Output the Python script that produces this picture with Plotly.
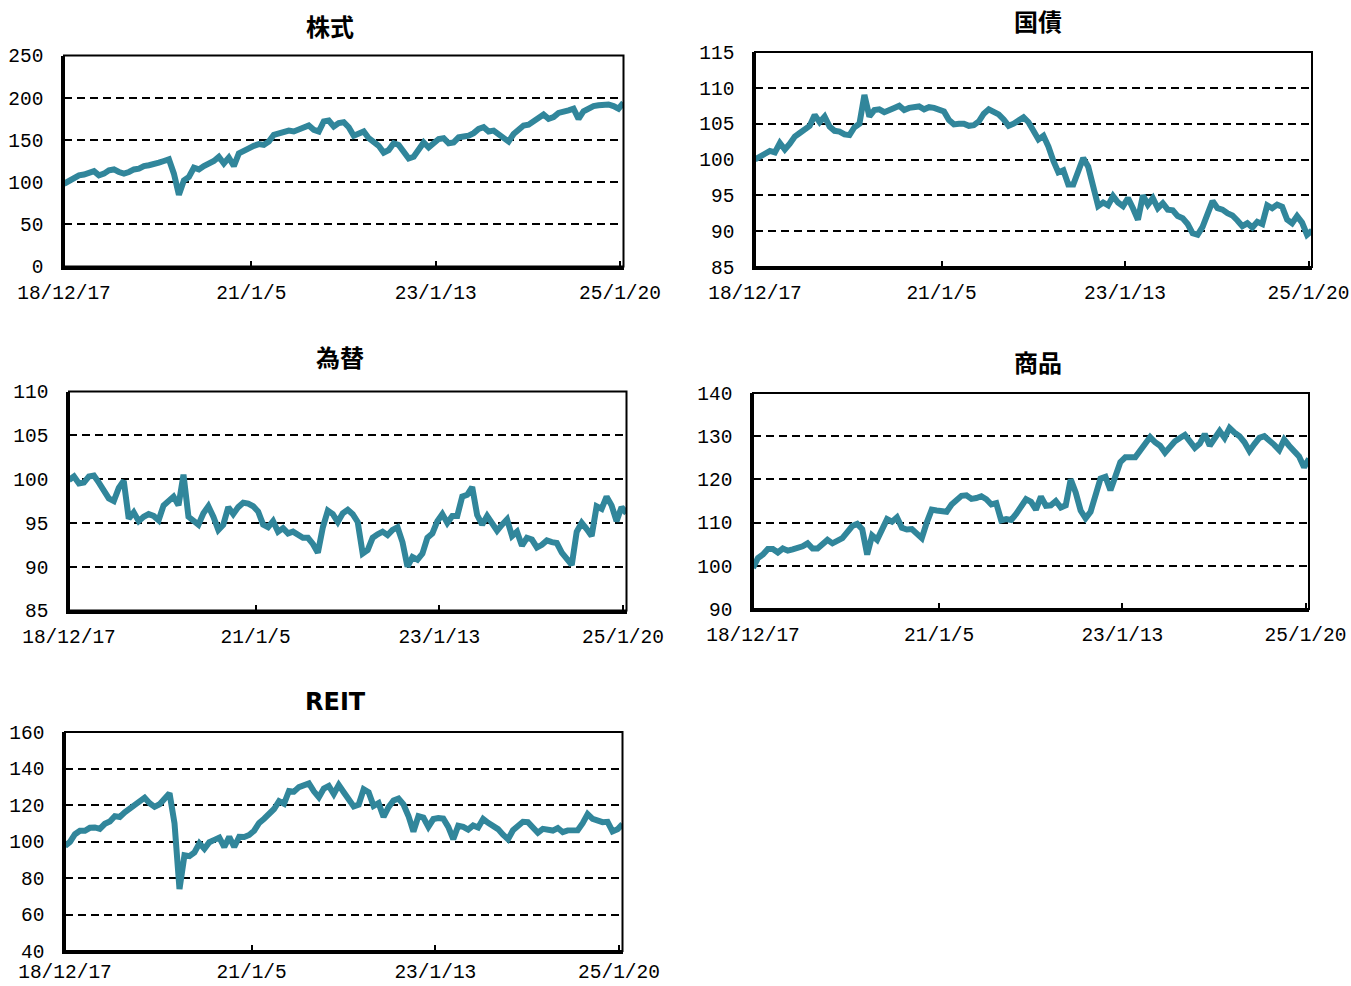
import pandas as pd
import plotly.graph_objects as go

# ---------------- data ----------------
dates = pd.date_range("2018-12-17", periods=113, freq="20D")
tick_dates = ["2018-12-17", "2021-01-05", "2023-01-13", "2025-01-20"]
tick_labels = ["18/12/17", "21/1/5", "23/1/13", "25/1/20"]
titles = ["株式", "国債", "為替", "商品", "REIT"]

stocks = [98, 102, 105, 108, 109, 111, 113, 108, 110, 114, 115, 112, 110, 112, 115, 116, 119, 120, 121, 123,
          125, 127, 110, 85, 102, 106, 117, 115, 119, 122, 125, 130, 122, 129, 119, 134, 138, 140, 143, 145,
          144, 148, 156, 158, 160, 161, 160, 162, 165, 167, 162, 160, 172, 173, 166, 170, 171, 165, 155, 157,
          160, 152, 148, 143, 135, 138, 146, 144, 136, 128, 130, 140, 147, 141, 146, 151, 152, 146, 147, 153,
          154, 155, 158, 163, 165, 160, 161, 156, 152, 148, 157, 163, 167, 168, 172, 176, 180, 175, 177, 182,
          183, 185, 187, 175, 184, 187, 190, 191, 191, 192, 190, 187, 194]

bonds = [100.0, 100.5, 100.8, 101.2, 101.0, 102.3, 101.4, 102.2, 103.2, 103.7, 104.2, 104.7, 106.2, 105.2, 106.0,
         104.6, 104.0, 103.9, 103.5, 103.4, 104.5, 105.0, 109.0, 106.0, 106.9, 107.0, 106.6, 106.8, 107.2, 107.5,
         106.9, 107.2, 107.3, 107.4, 107.0, 107.3, 107.2, 107.0, 106.7, 105.5, 104.9, 105.0, 105.0, 104.7, 104.8,
         105.3, 106.4, 107.0, 106.7, 106.3, 105.6, 104.7, 105.0, 105.4, 105.9, 105.2, 104.0, 102.8, 103.3, 101.8,
         99.8, 98.2, 98.5, 96.5, 96.5, 98.2, 100.2, 99.0, 96.4, 93.5, 94.0, 93.6, 94.9, 94.0, 93.5,
         94.6, 93.2, 91.6, 95.0, 93.7, 94.6, 93.2, 93.9, 93.0, 92.9, 92.1, 91.8, 91.0, 89.7, 89.5,
         90.6, 92.4, 94.2, 93.2, 93.0, 92.5, 92.2, 91.5, 90.7, 91.1, 90.5, 91.3, 91.0, 93.6, 93.2,
         93.7, 93.4, 91.6, 91.1, 92.1, 91.2, 89.5, 90.1]

fx = [99.9, 100.3, 99.5, 99.6, 100.3, 100.4, 99.6, 98.6, 97.8, 97.5, 99.0, 99.8, 95.5, 96.2, 95.2,
      95.7, 96.0, 95.8, 95.3, 97.0, 97.4, 98.0, 97.0, 100.5, 95.7, 95.2, 94.8, 96.1, 96.9, 95.7,
      94.2, 94.8, 96.8, 96.0, 96.8, 97.3, 97.2, 96.9, 96.3, 94.8, 94.5, 95.2, 94.0, 94.4, 93.8,
      94.0, 93.7, 93.3, 93.3, 92.6, 91.6, 94.5, 96.4, 96.0, 95.1, 96.1, 96.5, 96.0, 95.1, 91.5,
      91.9, 93.3, 93.7, 94.0, 93.6, 94.2, 94.5, 92.8, 90.0, 91.1, 90.8, 91.5, 93.3, 93.8, 95.2,
      96.0, 95.0, 95.8, 95.8, 98.0, 98.2, 99.1, 95.9, 94.8, 95.8, 95.0, 94.1, 94.8, 95.4, 93.5,
      94.0, 92.4, 93.3, 93.1, 92.2, 92.5, 93.0, 92.8, 92.7, 91.6, 90.8, 90.2, 94.0, 95.0, 94.3,
      93.5, 96.9, 96.6, 98.0, 97.0, 95.2, 96.8, 96.1]

commod = [99.5, 101.8, 102.6, 103.9, 103.9, 103.1, 104.0, 103.5, 103.8, 104.0, 104.5, 105.2, 104.0, 104.0, 105.2,
          106.0, 105.2, 106.0, 106.4, 107.8, 109.2, 109.7, 108.5, 102.6, 107.0, 106.0, 108.7, 110.8, 110.2, 111.2,
          108.8, 108.4, 108.5, 107.2, 106.4, 110.0, 113.0, 112.8, 112.8, 112.5, 114.2, 115.0, 116.2, 116.3, 115.5,
          115.7, 116.1, 115.4, 114.2, 114.5, 110.5, 110.8, 110.6, 112.0, 113.8, 115.4, 114.8, 113.0, 116.0, 113.9,
          114.0, 115.0, 113.5, 114.0, 120.0, 117.0, 112.8, 111.0, 112.5, 117.0, 120.2, 120.6, 117.5, 120.7, 124.0,
          125.1, 125.1, 125.1, 126.7, 128.2, 129.8, 128.6, 127.8, 126.2, 127.6, 128.8, 129.6, 130.3, 128.8, 127.3,
          128.3, 130.5, 127.8, 129.4, 131.2, 129.6, 131.9, 130.8, 130.0, 128.6, 126.6, 128.2, 129.6, 130.0, 129.2,
          128.0, 126.8, 129.2, 127.8, 126.6, 125.3, 122.8, 124.8]

reit = [97.5, 99.8, 104.0, 105.9, 105.9, 107.5, 107.7, 106.9, 109.7, 111.0, 113.9, 113.4, 116.0, 117.9, 119.8,
        122.0, 124.0, 121.0, 119.0, 120.4, 123.0, 126.5, 110.0, 74.0, 92.5, 92.0, 94.0, 99.0, 96.0, 99.6,
        100.9, 102.1, 97.0, 102.5, 97.0, 102.6, 102.5, 103.6, 105.9, 110.2, 112.5, 115.0, 117.8, 122.1, 120.7,
        127.7, 127.3, 129.8, 130.7, 131.8, 127.5, 124.2, 129.0, 130.4, 126.0, 131.0, 127.0, 122.6, 119.2, 120.2,
        128.6, 127.0, 119.5, 121.0, 113.5, 118.8, 122.5, 123.5, 120.3, 114.0, 105.5, 113.9, 113.1, 108.0, 112.3,
        112.8, 112.5, 108.0, 101.3, 108.6, 108.0, 106.5, 108.8, 107.7, 112.3, 110.2, 108.6, 106.8, 103.7, 101.2,
        106.2, 109.0, 110.8, 110.6, 108.0, 104.8, 106.9, 106.6, 106.0, 107.4, 105.1, 106.1, 106.2, 106.2, 110.0,
        115.0, 112.4, 111.5, 110.6, 110.8, 105.5, 106.7, 109.5]

series = [stocks, bonds, fx, commod, reit]
y_ranges = [(0, 250, 50), (85, 115, 5), (85, 110, 5), (90, 140, 10), (40, 160, 20)]

# ---------------- layout ----------------
W, H = 1351, 986
boxes = [  # x0, x1, ytop, ybottom (px)
    (64, 623.5, 55.5, 266.5),
    (755, 1312, 52, 267),
    (69, 626.5, 391.5, 610.5),
    (753, 1309, 393, 609),
    (65, 622.5, 732, 951),
]
title_pos = [(330, 28), (1038, 23), (340, 359), (1038, 364), (335, 702)]
x_standoff = [6, 6, 6, 6, 1]

LINE_COLOR = "#31869B"
TICK_FONT = dict(family="Liberation Mono, DejaVu Sans Mono, monospace", size=19.5, color="#000")

fig = go.Figure()
layout = dict(
    width=W, height=H,
    margin=dict(l=0, r=0, t=0, b=0, autoexpand=False),
    paper_bgcolor="white", plot_bgcolor="white",
    showlegend=False,
    shapes=[], annotations=[],
)

for k in range(5):
    n = "" if k == 0 else str(k + 1)
    x0, x1, yt, yb = boxes[k]
    fig.add_trace(go.Scatter(
        x=dates, y=series[k], mode="lines",
        line=dict(color=LINE_COLOR, width=6),
        xaxis="x" + n, yaxis="y" + n, hoverinfo="skip",
    ))
    lo, hi, step = y_ranges[k]
    layout["xaxis" + n] = dict(
        domain=[x0 / W, x1 / W], anchor="y" + n, type="date",
        range=[dates[0], dates[-1]],
        tickmode="array", tickvals=tick_dates, ticktext=tick_labels,
        ticks="inside", ticklen=6, tickwidth=2, tickcolor="#000",
        showline=True, linewidth=2.5, linecolor="#000",
        showgrid=False, zeroline=False, automargin=False,
        tickfont=TICK_FONT, ticklabelstandoff=x_standoff[k], ticklabeloverflow="allow",
    )
    layout["yaxis" + n] = dict(
        domain=[1 - yb / H, 1 - yt / H], anchor="x" + n,
        range=[lo, hi], tick0=lo, dtick=step, ticks="",
        showline=True, linewidth=2.5, linecolor="#000",
        showgrid=True, gridcolor="#000", gridwidth=1.6, griddash="8px,5px",
        zeroline=False, automargin=False,
        tickfont=TICK_FONT, ticklabelstandoff=14,
    )
    layout["shapes"].append(dict(
        type="rect", xref="x" + n + " domain", yref="y" + n + " domain",
        x0=0, x1=1, y0=0, y1=1, line=dict(color="#000", width=2), layer="above",
    ))
    tx, ty = title_pos[k]
    layout["annotations"].append(dict(
        text="<b>" + titles[k] + "</b>", xref="paper", yref="paper",
        x=tx / W, y=1 - ty / H, xanchor="center", yanchor="middle", showarrow=False,
        font=dict(family="DejaVu Sans, Noto Sans CJK JP", size=24, color="#000"),
    ))

fig.update_layout(**layout)
fig.write_html("out.html", config={"displayModeBar": False},
               post_script="document.body.style.margin='0';")
